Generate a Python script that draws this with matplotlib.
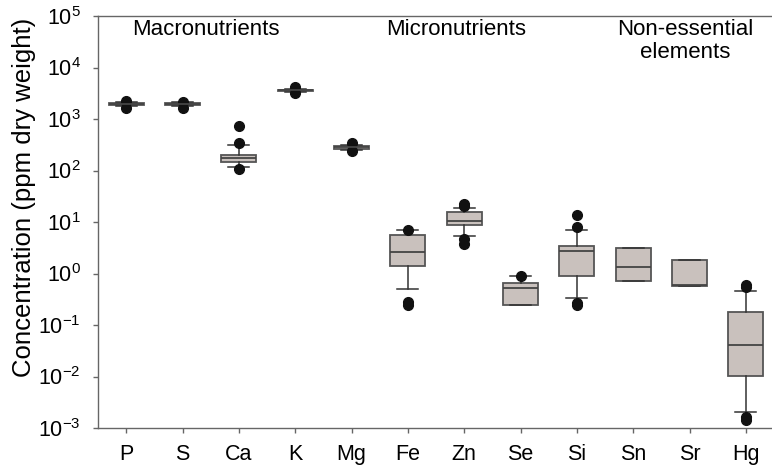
import numpy as np
import matplotlib.pyplot as plt

plt.rcParams['font.family'] = ['Liberation Sans', 'DejaVu Sans']

elements = ['P', 'S', 'Ca', 'K', 'Mg', 'Fe', 'Zn', 'Se', 'Si', 'Sn', 'Sr', 'Hg']

# box statistics (ppm dry weight)
q1 = [1850, 1850, 145, 3450, 265, 1.43, 8.6, 0.25, 0.875, 0.70, 0.56, 0.0104]
med = [1940, 1950, 172, 3600, 282, 2.57, 10.3, 0.53, 2.68, 1.31, 0.61, 0.040]
q3 = [2000, 2020, 198, 3700, 295, 5.48, 15.4, 0.64, 3.35, 3.06, 1.79, 0.18]
whislo = [1750, 1750, 115, 3300, 250, 0.49, 5.25, 0.25, 0.34, 0.70, 0.56, 0.0020]
whishi = [2100, 2100, 309, 3900, 310, 6.87, 18.4, 0.875, 6.9, 3.06, 1.79, 0.45]
fliers = [
    [2200, 1600],
    [2150, 1600],
    [724, 340, 105],
    [4150, 3170],
    [340, 234],
    [7.0, 0.28, 0.25],
    [22, 20, 4.6, 3.8],
    [0.91],
    [13.4, 7.9, 0.27, 0.25],
    [],
    [],
    [0.61, 0.55, 0.0016, 0.0014],
]

groups = ['Macronutrients', 'Micronutrients', 'Non-essential\nelements']
group_x = [2.41, 6.86, 10.93]

stats = []
for i, name in enumerate(elements):
    stats.append(dict(label=name, q1=q1[i], med=med[i], q3=q3[i],
                      whislo=whislo[i], whishi=whishi[i], fliers=fliers[i]))

fig = plt.figure(figsize=(7.72, 4.71), dpi=100)
ax = fig.add_axes([98 / 772, 43 / 471, 676 / 772, 412 / 471])

edge = '#555555'
ax.bxp(stats, positions=np.arange(1, 13), widths=0.62, patch_artist=True,
       boxprops=dict(facecolor='#c9c1bd', edgecolor=edge, linewidth=1.3),
       medianprops=dict(color='#444444', linewidth=1.3),
       whiskerprops=dict(color='#333333', linewidth=1.1),
       capprops=dict(color='#333333', linewidth=1.1),
       capwidths=0.37,
       flierprops=dict(marker='o', markerfacecolor='#111111', markeredgecolor='#111111',
                       markersize=7))

ax.set_yscale('log')
ax.set_ylim(1e-3, 1e5)
ax.set_xlim(0.5, 12.5)
ax.set_yticks([10.0 ** k for k in range(-3, 6)])
ax.set_yticklabels([f'$\\mathregular{{10^{{{k}}}}}$' for k in range(-3, 6)])
ax.minorticks_off()
ax.set_xticks(np.arange(1, 13))
ax.set_xticklabels(elements)
ax.tick_params(axis='both', labelsize=15.5, direction='out', length=3.5,
               width=1.0, color='#666666')
ax.tick_params(axis='y', pad=9)
ax.tick_params(axis='x', pad=8)

for s in ax.spines.values():
    s.set_color('#666666')
    s.set_linewidth(1.0)
ax.spines['right'].set_visible(False)

fig.text(24 / 772, 0.5807, 'Concentration (ppm dry weight)', rotation=90,
         ha='center', va='center', fontsize=18.5)

for label, gx in zip(groups, group_x):
    ax.text(gx, 10 ** 4.94, label, ha='center', va='top', fontsize=16,
            linespacing=1.1)

fig.savefig('out.png', dpi=100)
